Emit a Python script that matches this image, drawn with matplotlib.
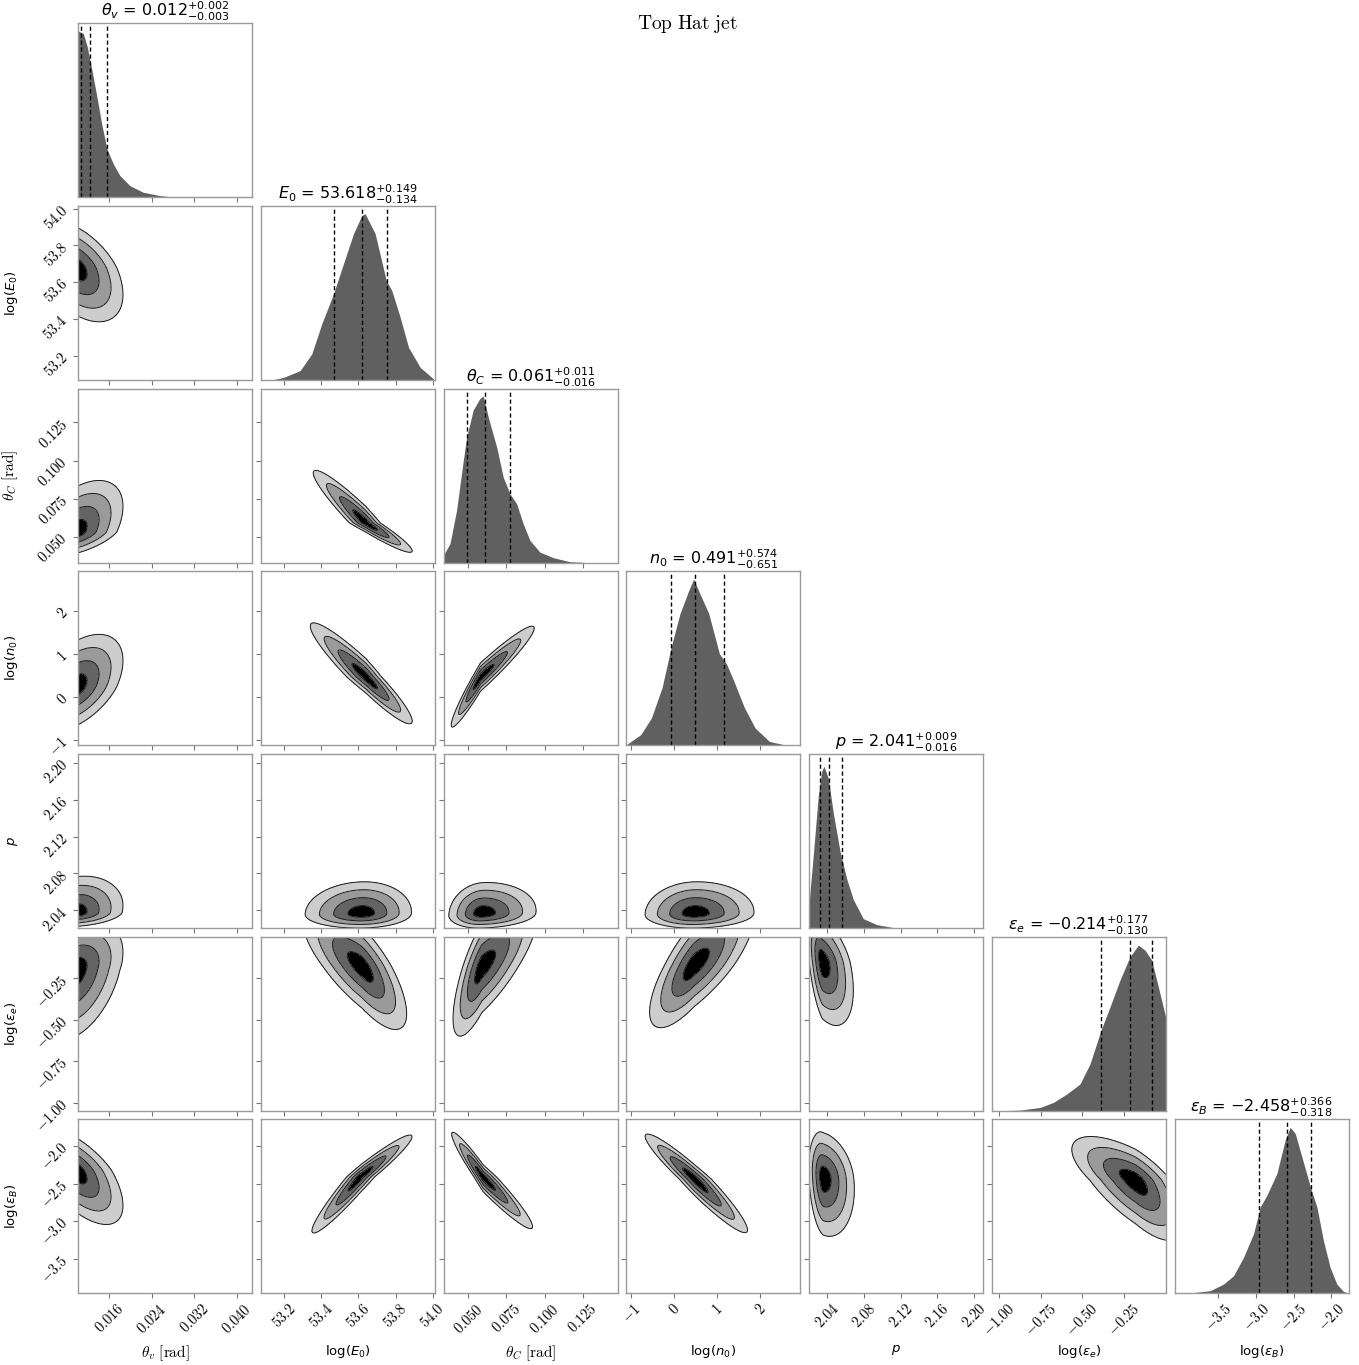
import numpy as np
import matplotlib
matplotlib.use("Agg")
import matplotlib.pyplot as plt

plt.rcParams["mathtext.fontset"] = "cm"

# parameter names / labels / titles
names = [r"\theta_v", "E_0", r"\theta_C", "n_0", "p", r"\varepsilon_e", r"\varepsilon_B"]
axis_labels = [r"$\theta_v\ \mathrm{[rad]}$", r"log($E_0$)", r"$\theta_C\ \mathrm{[rad]}$",
               r"log($n_0$)", r"$p$", r"log($\varepsilon_e$)", r"log($\varepsilon_B$)"]
label_is_cm = [True, False, True, False, False, False, False]
medians = ["0.012", "53.618", "0.061", "0.491", "2.041", "-0.214", "-2.458"]
err_hi = ["0.002", "0.149", "0.011", "0.574", "0.009", "0.177", "0.366"]
err_lo = ["0.003", "0.134", "0.016", "0.651", "0.016", "0.130", "0.318"]

# axis ranges (x for columns, y for rows)
x_ranges = [(0.0102, 0.0429), (53.074, 54.013), (0.034, 0.1476), (-1.114, 2.93),
            (2.0202, 2.2099), (-1.045, 0.001), (-4.085, -1.77)]
y_ranges = [(0.0102, 0.0429), (53.067, 54.014), (0.0332, 0.147), (-1.114, 2.92),
            (2.0205, 2.2099), (-1.05, 0.001), (-3.957, -1.649)]
tick_vals = [[0.016, 0.024, 0.032, 0.040], [53.2, 53.4, 53.6, 53.8, 54.0],
             [0.050, 0.075, 0.100, 0.125], [-1, 0, 1, 2], [2.04, 2.08, 2.12, 2.16, 2.20],
             [-1.00, -0.75, -0.50, -0.25], [-3.5, -3.0, -2.5, -2.0]]
tick_text = [["0.016", "0.024", "0.032", "0.040"], ["53.2", "53.4", "53.6", "53.8", "54.0"],
             ["0.050", "0.075", "0.100", "0.125"], ["-1", "0", "1", "2"],
             ["2.04", "2.08", "2.12", "2.16", "2.20"], ["-1.00", "-0.75", "-0.50", "-0.25"],
             ["-3.5", "-3.0", "-2.5", "-2.0"]]

# 1D marginals (relative height)
hist_x = [
    [0.0102, 0.01114, 0.01189, 0.01271, 0.01365, 0.01459, 0.01558, 0.01677, 0.01802, 0.0199, 0.0224, 0.02553, 0.02866, 0.0429],
    [53.074, 53.132, 53.195, 53.285, 53.348, 53.402, 53.465, 53.519, 53.573, 53.618, 53.636, 53.690, 53.750, 53.780, 53.825, 53.870, 53.933, 54.005],
    [0.0337, 0.0381, 0.0424, 0.0468, 0.0490, 0.0533, 0.0577, 0.0598, 0.0631, 0.0686, 0.0729, 0.0772, 0.0816, 0.0859, 0.0903, 0.0968, 0.1055, 0.1163, 0.1294],
    [-1.114, -0.781, -0.533, -0.284, -0.074, 0.133, 0.340, 0.449, 0.589, 0.798, 1.047, 1.212, 1.379, 1.628, 1.877, 2.209, 2.623],
    [2.0201, 2.0248, 2.0302, 2.0339, 2.0364, 2.0411, 2.0466, 2.0539, 2.0612, 2.0684, 2.0793, 2.0939, 2.1120, 2.1266],
    [-1.0, -0.875, -0.755, -0.675, -0.595, -0.515, -0.455, -0.389, -0.335, -0.275, -0.215, -0.164, -0.124, -0.084, -0.044, 0.0],
    [-3.899, -3.610, -3.433, -3.300, -3.167, -3.034, -2.945, -2.856, -2.723, -2.613, -2.546, -2.480, -2.391, -2.271, -2.191, -2.104, -2.015, -1.926, -1.838, -1.771],
]
hist_h = [
    [0.956, 0.942, 0.865, 0.740, 0.587, 0.423, 0.279, 0.193, 0.125, 0.067, 0.029, 0.010, 0.0, 0.0],
    [0.0, 0.0, 0.015, 0.054, 0.15, 0.323, 0.495, 0.668, 0.841, 0.946, 0.956, 0.841, 0.572, 0.514, 0.361, 0.188, 0.073, 0.006],
    [0.042, 0.109, 0.301, 0.588, 0.722, 0.878, 0.945, 0.958, 0.836, 0.664, 0.491, 0.397, 0.339, 0.224, 0.128, 0.061, 0.029, 0.006, 0.0],
    [0.004, 0.062, 0.158, 0.333, 0.565, 0.759, 0.894, 0.956, 0.875, 0.759, 0.527, 0.469, 0.372, 0.217, 0.1, 0.023, 0.0],
    [0.143, 0.423, 0.761, 0.90, 0.93, 0.861, 0.661, 0.442, 0.283, 0.164, 0.054, 0.02, 0.003, 0.0],
    [0.0, 0.004, 0.019, 0.048, 0.096, 0.154, 0.269, 0.462, 0.596, 0.750, 0.885, 0.952, 0.923, 0.866, 0.712, 0.538],
    [0.002, 0.016, 0.054, 0.102, 0.208, 0.343, 0.497, 0.565, 0.690, 0.882, 0.955, 0.920, 0.785, 0.603, 0.497, 0.304, 0.150, 0.054, 0.012, 0.002],
]
quantile_lines = [[0.0108, 0.0124, 0.0156], [53.470, 53.618, 53.753], [0.0490, 0.0607, 0.0772],
                  [-0.074, 0.491, 1.146], [2.0321, 2.0416, 2.0564], [-0.389, -0.215, -0.084],
                  [-2.955, -2.590, -2.267]]

# 2D panels: (row, col), centre, split sigmas, correlation
panels = [(1, 0), (2, 0), (3, 0), (4, 0), (5, 0), (6, 0),
          (2, 1), (3, 1), (4, 1), (5, 1), (6, 1),
          (3, 2), (4, 2), (5, 2), (6, 2),
          (4, 3), (5, 3), (6, 3),
          (5, 4), (6, 4),
          (6, 5)]
cx = [0.0096, 0.0096, 0.0096, 0.0096, 0.0096, 0.0096,
      53.64, 53.64, 53.62, 53.62, 53.609,
      0.0581, 0.0589, 0.0589, 0.0598,
      0.465, 0.465, 0.481,
      2.0346, 2.0357,
      -0.184]
cy = [53.68, 0.053, 0.24, 2.037, -0.199, -2.322,
      0.0592, 0.471, 2.0363, -0.179, -2.411,
      0.471, 2.0363, -0.179, -2.419,
      2.0363, -0.168, -2.442,
      -0.149, -2.419,
      -2.455]
sx_lo = [0.0045] * 6 + [0.142, 0.15, 0.154, 0.16, 0.13, 0.0096, 0.0108, 0.0094, 0.0103,
                        0.573, 0.52, 0.58, 0.008, 0.008, 0.19]
sx_hi = [0.0045] * 6 + [0.125, 0.125, 0.133, 0.12, 0.14, 0.0175, 0.0177, 0.018, 0.0161,
                        0.693, 0.70, 0.61, 0.0169, 0.0169, 0.15]
sy_lo = [0.148, 0.008, 0.525, 0.0075, 0.215, 0.36,
         0.0096, 0.542, 0.0079, 0.19, 0.372,
         0.58, 0.0079, 0.21, 0.339,
         0.0079, 0.19, 0.354,
         0.193, 0.39,
         0.40]
sy_hi = [0.129, 0.017, 0.61, 0.02, 0.15, 0.29,
         0.0172, 0.628, 0.0173, 0.18, 0.278,
         0.59, 0.0169, 0.2, 0.30,
         0.0173, 0.2, 0.30,
         0.15, 0.303,
         0.29]
rho = [-0.5, 0.5, 0.5, 0.2, 0.35, -0.65,
       -0.95, -0.94, 0.05, -0.75, 0.96,
       0.96, 0.1, 0.75, -0.96,
       0.05, 0.75, -0.95,
       -0.45, -0.2,
       -0.7]

sigma_levels = [0.0, 0.5, 1.0, 1.5, 2.0]
fill_colors = ["black", "#646464", "#9a9a9a", "#cdcdcd"]
hist_color = "#606060"
spine_color = "#9a9a9a"

ndim = len(names)
fig = plt.figure(figsize=(13.59, 13.65), dpi=100)
axes = fig.subplots(ndim, ndim)
fig.subplots_adjust(left=0.0576, right=0.9923, bottom=0.0524, top=0.9829,
                    wspace=0.05, hspace=0.05)


def split(v, c, lo, hi):
    d = v - c
    return np.where(d < 0, d / lo, d / hi)


def label_style(idx):
    if label_is_cm[idx]:
        return {"fontsize": 11}
    return {"fontsize": 9.5, "math_fontfamily": "dejavusans"}


for i in range(ndim):
    for j in range(ndim):
        ax = axes[i, j]
        if j > i:
            ax.set_axis_off()
            continue
        for s in ax.spines.values():
            s.set_color(spine_color)
            s.set_linewidth(1.0)
        ax.tick_params(direction="out", length=3.5, width=0.8, color="#777777",
                       labelsize=10.5, pad=2)
        ax.set_xlim(*x_ranges[j])
        ax.set_xticks(tick_vals[j])
        if i == ndim - 1:
            ax.set_xticklabels([f"${t}$" for t in tick_text[j]], rotation=45)
            ax.set_xlabel(axis_labels[j], **label_style(j))
            ax.xaxis.set_label_coords(0.5, -0.285)
        else:
            ax.set_xticklabels([])

        if i == j:
            ax.fill_between(hist_x[i], 0, hist_h[i], color=hist_color, lw=0)
            for q in quantile_lines[i]:
                ax.axvline(q, color="black", ls="--", lw=1.0, dashes=(3, 2))
            ax.set_ylim(0, 1)
            ax.set_yticks([])
            ax.set_title(rf"${names[i]}$ = ${medians[i]}_{{-{err_lo[i]}}}^{{+{err_hi[i]}}}$",
                         fontsize=11.5, math_fontfamily="dejavusans", pad=3)
            continue

        ax.set_ylim(*y_ranges[i])
        ax.set_yticks(tick_vals[i])
        if j == 0:
            ax.set_yticklabels([f"${t}$" for t in tick_text[i]], rotation=45)
            ax.set_ylabel(axis_labels[i], **label_style(i))
            ax.yaxis.set_label_coords(-0.335, 0.5)
        else:
            ax.set_yticklabels([])

        k = panels.index((i, j))
        gx = np.linspace(*x_ranges[j], 300)
        gy = np.linspace(*y_ranges[i], 300)
        X, Y = np.meshgrid(gx, gy)
        u = split(X, cx[k], sx_lo[k], sx_hi[k])
        v = split(Y, cy[k], sy_lo[k], sy_hi[k])
        r = np.sqrt((u ** 2 - 2 * rho[k] * u * v + v ** 2) / (1 - rho[k] ** 2))
        ax.contourf(X, Y, r, levels=sigma_levels, colors=fill_colors)
        ax.contour(X, Y, r, levels=sigma_levels[1:], colors="#1a1a1a", linewidths=0.7)

fig.text(0.5055, 0.9825, r"$\mathrm{Top\ Hat\ jet}$", fontsize=14, ha="center", va="center")

fig.savefig("out.png", dpi=100)
